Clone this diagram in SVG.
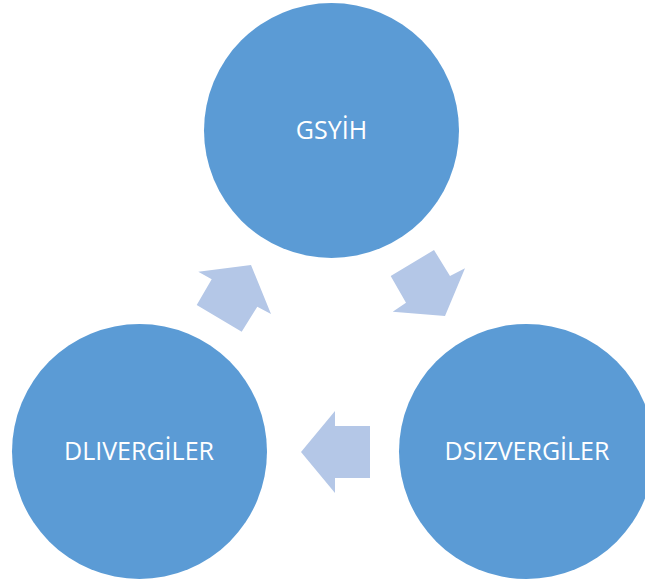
<svg xmlns="http://www.w3.org/2000/svg" width="645" height="583" viewBox="0 0 645 583">
<style>
.node{fill:#5B9BD5}
.lbl{fill:#FFFFFF;font-family:"Open Sans","Noto Sans","Liberation Sans",sans-serif;font-size:25px;text-anchor:middle}
.arr{fill:#B4C7E7}
</style>
<rect width="645" height="583" fill="#FFFFFF"/>
<g id="connectors">
<polygon class="arr" points="251,265 271,314 257.3,306.7 241.7,331.7 196.7,305 211.7,279.3 198.3,271.7"/>
<polygon class="arr" points="445,316 392.7,311.7 406,302.7 390.7,276 434,250 450,276 465,268.3"/>
<polygon class="arr" points="301,452 335,411 335,426 370,426 370,478 335,478 335,493"/>
</g>
<g id="gsyih">
<circle class="node" cx="331.5" cy="130.5" r="127.5"/>
<text class="lbl" x="331.5" y="138.5">GSYİH</text>
</g>
<g id="dsizvergiler">
<circle class="node" cx="526.5" cy="451.5" r="127.5"/>
<text class="lbl" x="527" y="460">DSIZVERGİLER</text>
</g>
<g id="dlivergiler">
<circle class="node" cx="139.5" cy="451.5" r="127.5"/>
<text class="lbl" x="139" y="460">DLIVERGİLER</text>
</g>
</svg>
